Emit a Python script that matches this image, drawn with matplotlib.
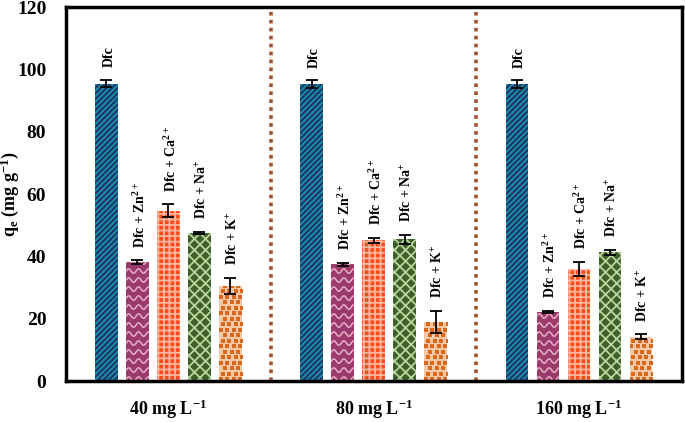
import numpy as np
import matplotlib.pyplot as plt

# --- Data ---
groups = ['40 mg L$^{\\mathbf{-1}}$', '80 mg L$^{\\mathbf{-1}}$', '160 mg L$^{\\mathbf{-1}}$']
series = ['Dfc', 'Dfc + Zn$^{2+}$', 'Dfc + Ca$^{2+}$', 'Dfc + Na$^{+}$', 'Dfc + K$^{+}$']

dfc = [95.5, 95.3, 95.3]
dfc_zn = [38.2, 37.5, 22.2]
dfc_ca = [54.7, 45.2, 36.0]
dfc_na = [47.6, 45.5, 41.4]
dfc_k = [30.5, 19.0, 14.3]

err_dfc = [1.2, 1.2, 1.2]
err_zn = [0.6, 0.5, 0.3]
err_ca = [2.0, 0.8, 2.3]
err_na = [0.4, 1.5, 0.8]
err_k = [2.6, 3.5, 0.7]

values = [dfc, dfc_zn, dfc_ca, dfc_na, dfc_k]
errors = [err_dfc, err_zn, err_ca, err_na, err_k]

# face colour, hatch colour, hatch
styles = [('#1b8a9a', '#1c2f6e', '//////'),
          ('#9b3a6c', '#9b3a6c', ''),
          ('#ff4a1c', '#ffb7a0', '+++'),
          ('#3f5f2a', '#b9d59c', 'xxx'),
          ('#f6c8a6', '#f6c8a6', '')]

plt.rcParams['font.family'] = ['Liberation Serif', 'DejaVu Serif']
plt.rcParams['font.weight'] = 'bold'
plt.rcParams['mathtext.fontset'] = 'custom'
plt.rcParams['mathtext.rm'] = 'Liberation Serif:bold'
plt.rcParams['mathtext.it'] = 'Liberation Serif:bold'
plt.rcParams['mathtext.bf'] = 'Liberation Serif:bold'
plt.rcParams['hatch.linewidth'] = 1.3

fig, ax = plt.subplots(figsize=(6.85, 4.22), dpi=100)
fig.subplots_adjust(left=0.096, right=0.995, top=0.983, bottom=0.097)
ax.set_xlim(-0.5, 2.5)
ax.set_ylim(0, 120)

x = np.arange(len(groups))
width = 0.11
step = 0.151
offsets = (np.arange(len(series)) - 2) * step

# pixel -> data scale, for the drawn patterns
bb = ax.get_window_extent()
px_x = 3.0 / bb.width
px_y = 120.0 / bb.height

for i, (vals, errs, (fc, hc, hatch)) in enumerate(zip(values, errors, styles)):
    pos = x + offsets[i]
    bars = ax.bar(pos, vals, width, color=fc, edgecolor=hc, linewidth=0, hatch=hatch, zorder=2)
    if i == 1:
        # wavy light lines for the Zn bars
        for rect in bars:
            x0 = rect.get_x()
            xs = np.linspace(x0, x0 + width, 60)
            for y0 in np.arange(2 * px_y, rect.get_height() + 6 * px_y, 9 * px_y):
                ys = y0 + 2.2 * px_y * np.sin(2 * np.pi * (xs - x0) / (10 * px_x))
                ln, = ax.plot(xs, ys, color='#e9aec6', lw=1.1, zorder=2.5)
                ln.set_clip_path(rect)
    if i == 4:
        # staggered orange squares for the K bars
        for rect in bars:
            x0 = rect.get_x()
            rows = np.arange(2 * px_y, rect.get_height() + 4 * px_y, 5.5 * px_y)
            for r, y0 in enumerate(rows):
                shift = (r % 3) * 2.3 * px_x
                xs = np.arange(x0 + 1.5 * px_x + shift, x0 + width + 3 * px_x, 6.5 * px_x)
                pts = ax.scatter(xs, np.full_like(xs, y0), marker='s', s=7,
                                 color='#d9681f', linewidths=0, zorder=2.5)
                pts.set_clip_path(rect)
    ax.errorbar(pos, vals, yerr=errs, fmt='none', ecolor='black', elinewidth=1.3,
                capsize=4, capthick=1.3, zorder=3)
    for p, v, e in zip(pos, vals, errs):
        ax.text(p + 0.012, v + e + 4, series[i], rotation=90, ha='center', va='bottom',
                fontsize=10, fontweight='bold')

# dotted separators between concentrations
for sep in [0.5, 1.5]:
    ax.axvline(sep, color='#a0522d', linestyle=(0, (1, 1.2)), linewidth=2.6, zorder=1)

ax.set_yticks(np.arange(0, 121, 20))
ax.set_xticks(x)
ax.set_xticklabels(groups, fontsize=13, fontweight='bold')
ax.tick_params(axis='y', length=0, labelsize=14, pad=14)
ax.tick_params(axis='x', length=0, labelsize=13, pad=12)
for lab in ax.get_yticklabels():
    lab.set_fontweight('bold')
ax.set_ylabel('q$_{\\mathbf{e}}$ (mg g$^{\\mathbf{-1}}$)', fontsize=13, fontweight='bold')
ax.yaxis.set_label_coords(-0.072, 0.5)

for s in ax.spines.values():
    s.set_linewidth(2.5)

plt.savefig('out.png')
